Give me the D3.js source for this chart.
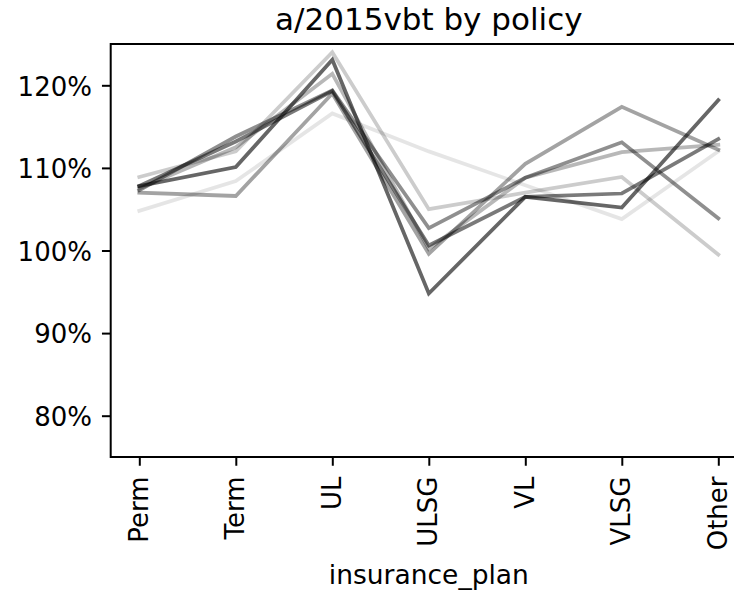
<!DOCTYPE html>
<html>
<head>
<meta charset="utf-8">
<script src="https://cdn.jsdelivr.net/npm/d3@7"></script>
<style>
  html, body { margin: 0; padding: 0; background: #fff; }
  svg { display: block; }
  svg text { font-family: "DejaVu Sans", sans-serif; }
</style>
</head>
<body>
<svg id="chart" width="734" height="593"></svg>
<script>
// insurance plan categories along the x axis
const categories = ["Perm", "Term", "UL", "ULSG", "VL", "VLSG", "Other"];

// actual / 2015 VBT ratio per plan, one array per policy group
const series1 = [1.048, 1.084, 1.166, 1.120, 1.079, 1.038, 1.120];
const series2 = [1.089, 1.120, 1.240, 1.050, 1.070, 1.089, 0.995];
const series3 = [1.075, 1.125, 1.214, 1.002, 1.088, 1.119, 1.128];
const series4 = [1.070, 1.066, 1.190, 0.996, 1.105, 1.174, 1.122];
const series5 = [1.073, 1.138, 1.194, 1.027, 1.088, 1.131, 1.039];
const series6 = [1.078, 1.132, 1.193, 1.006, 1.065, 1.069, 1.135];
const series7 = [1.078, 1.101, 1.231, 0.948, 1.065, 1.052, 1.182];

const allSeries = [series1, series2, series3, series4, series5, series6, series7];
const seriesAlpha = [0.1, 0.2, 0.28, 0.36, 0.44, 0.52, 0.6];

const yTicks = [0.8, 0.9, 1.0, 1.1, 1.2];
const titleText = "a/2015vbt by policy";
const xLabelText = "insurance_plan";

const FONT = "DejaVu Sans, sans-serif";
const TICK_FS = 26;
const svg = d3.select("#chart");
const plot = { left: 110.7, right: 747, top: 44, bottom: 457 };

const x = d3.scalePoint()
  .domain(categories)
  .range([139.3, 718.3]);

const y = d3.scaleLinear()
  .domain([0.75, 1.25])
  .range([plot.bottom, plot.top]);

// lines
const line = d3.line()
  .x((d, i) => x(categories[i]))
  .y(d => y(d));

const lineGroup = svg.append("g");
allSeries.forEach((s, k) => {
  lineGroup.append("path")
    .datum(s)
    .attr("d", line)
    .attr("fill", "none")
    .attr("stroke", "#000")
    .attr("stroke-opacity", seriesAlpha[k])
    .attr("stroke-width", 3.75)
    .attr("stroke-linejoin", "miter")
    .attr("stroke-linecap", "square");
});

// axes
const yAxis = d3.axisLeft(y)
  .tickValues(yTicks)
  .tickFormat(d3.format(".0%"))
  .tickSize(8.75)
  .tickPadding(10);

const xAxis = d3.axisBottom(x)
  .tickSize(8.75)
  .tickPadding(8.75);

const gy = svg.append("g")
  .attr("transform", `translate(${plot.left},0)`)
  .call(yAxis)
  .attr("font-family", FONT);
gy.select(".domain").remove();
gy.selectAll(".tick line").attr("stroke", "#000").attr("stroke-width", 2);
gy.selectAll(".tick text")
  .attr("font-family", FONT)
  .attr("font-size", TICK_FS)
  .attr("fill", "#000")
  .attr("dy", "0.38em");

const gx = svg.append("g")
  .attr("transform", `translate(0,${plot.bottom})`)
  .call(xAxis)
  .attr("font-family", FONT);
gx.select(".domain").remove();
gx.selectAll(".tick line").attr("stroke", "#000").attr("stroke-width", 2);
gx.selectAll(".tick text")
  .attr("font-family", FONT)
  .attr("font-size", TICK_FS)
  .attr("fill", "#000")
  .attr("text-anchor", "end")
  .attr("x", 0)
  .attr("y", 0)
  .attr("dy", "0.3em")
  .attr("transform", "translate(0,19.5) rotate(-90)");

// frame
svg.append("rect")
  .attr("x", plot.left)
  .attr("y", plot.top)
  .attr("width", plot.right - plot.left)
  .attr("height", plot.bottom - plot.top)
  .attr("fill", "none")
  .attr("stroke", "#000")
  .attr("stroke-width", 2);

// title and axis label
const cx = (plot.left + plot.right) / 2;
svg.append("text")
  .attr("x", cx)
  .attr("y", 29.5)
  .attr("text-anchor", "middle")
  .attr("font-family", FONT)
  .attr("font-size", 31)
  .attr("fill", "#000")
  .text(titleText);

svg.append("text")
  .attr("x", cx)
  .attr("y", 584)
  .attr("text-anchor", "middle")
  .attr("font-family", FONT)
  .attr("font-size", 26.5)
  .attr("fill", "#000")
  .text(xLabelText);
</script>
</body>
</html>
